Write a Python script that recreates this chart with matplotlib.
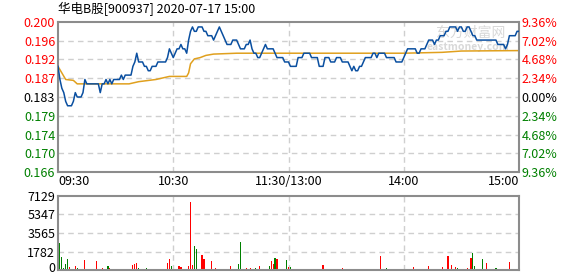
import matplotlib
matplotlib.use('Agg')
import matplotlib.pyplot as plt
import matplotlib.transforms as mtransforms
import numpy as np

plt.rcParams['font.family'] = ['Noto Sans CJK SC', 'DejaVu Sans']

title = '华电B股[900937] 2020-07-17 15:00'
prev_close = 0.183

# minute prices 09:30 .. 15:00 (241 points, 11:30 and 13:00 merged)
price = [
    0.190, 0.187, 0.185, 0.184, 0.182, 0.181, 0.181, 0.181, 0.182, 0.184,
    0.183, 0.183, 0.183, 0.184, 0.187, 0.186, 0.186, 0.186, 0.186, 0.186,
    0.186, 0.186, 0.184, 0.186, 0.186, 0.187, 0.186, 0.187, 0.186, 0.187,
    0.187, 0.187, 0.187, 0.188, 0.187, 0.188, 0.188, 0.188, 0.188, 0.190,
    0.191, 0.193, 0.191, 0.191, 0.191, 0.190, 0.190, 0.189, 0.189, 0.190,
    0.190, 0.190, 0.191, 0.191, 0.191, 0.191, 0.191, 0.192, 0.194, 0.193,
    0.192, 0.193, 0.194, 0.194, 0.195, 0.194, 0.194, 0.193, 0.196, 0.198,
    0.199, 0.198, 0.198, 0.199, 0.199, 0.199, 0.198, 0.198, 0.197, 0.197,
    0.197, 0.196, 0.197, 0.198, 0.199, 0.198, 0.197, 0.196, 0.195, 0.195,
    0.195, 0.196, 0.196, 0.196, 0.195, 0.194, 0.194, 0.194, 0.195, 0.195,
    0.196, 0.194, 0.193, 0.193, 0.192, 0.192, 0.193, 0.194, 0.195, 0.194,
    0.194, 0.194, 0.194, 0.193, 0.192, 0.192, 0.192, 0.192, 0.191, 0.191,
    0.191, 0.190, 0.190, 0.190, 0.190, 0.192, 0.192, 0.192, 0.193, 0.193,
    0.193, 0.193, 0.192, 0.192, 0.192, 0.192, 0.190, 0.190, 0.190, 0.192,
    0.192, 0.192, 0.191, 0.191, 0.191, 0.192, 0.192, 0.192, 0.191, 0.191,
    0.191, 0.191, 0.190, 0.189, 0.190, 0.189, 0.189, 0.190, 0.190, 0.191,
    0.192, 0.192, 0.192, 0.192, 0.193, 0.193, 0.192, 0.193, 0.193, 0.193,
    0.193, 0.192, 0.192, 0.192, 0.192, 0.192, 0.191, 0.191, 0.191, 0.191,
    0.192, 0.193, 0.194, 0.194, 0.194, 0.194, 0.194, 0.193, 0.193, 0.194,
    0.194, 0.194, 0.195, 0.196, 0.196, 0.196, 0.195, 0.196, 0.196, 0.197,
    0.197, 0.197, 0.198, 0.198, 0.199, 0.199, 0.199, 0.199, 0.198, 0.199,
    0.199, 0.198, 0.198, 0.199, 0.199, 0.198, 0.197, 0.197, 0.196, 0.196,
    0.196, 0.196, 0.196, 0.196, 0.196, 0.196, 0.196, 0.196, 0.196, 0.195,
    0.195, 0.195, 0.195, 0.194, 0.195, 0.197, 0.197, 0.197, 0.197, 0.198,
    0.198,
]

# average price line, read at turning points (minute, price)
avg_min = [0, 2, 4, 8, 10, 37, 42, 51, 58, 67, 68, 69, 71, 74, 77, 81, 93, 180, 200, 210, 240]
avg_val = [0.1900, 0.1885, 0.1870, 0.1868, 0.1860, 0.1860, 0.1865, 0.1870, 0.1877, 0.1877,
           0.1885, 0.1906, 0.1917, 0.1920, 0.1925, 0.1928, 0.1930, 0.1930, 0.1932, 0.1935, 0.1936]

volume = [
    0, 2633, 1285, 160, 578, 1060, 257, 96, 96, 385,
    190, 96, 96, 96, 963, 96, 96, 96, 96, 96,
    867, 96, 96, 190, 96, 96, 385, 190, 96, 96,
    96, 96, 96, 96, 96, 96, 0, 96, 0, 480,
    578, 674, 190, 96, 96, 96, 190, 96, 96, 96,
    96, 96, 96, 96, 96, 96, 96, 674, 1060, 385,
    96, 96, 96, 385, 290, 96, 96, 0, 385, 6551,
    480, 2312, 2023, 96, 96, 1445, 1060, 96, 96, 0,
    867, 96, 190, 96, 96, 96, 96, 96, 96, 96,
    385, 96, 96, 96, 578, 2697, 96, 96, 190, 96,
    190, 96, 96, 190, 96, 385, 96, 96, 96, 96,
    385, 867, 578, 1156, 1060, 96, 96, 96, 0, 963,
    257, 290, 0, 0, 0, 96, 96, 0, 96, 96,
    0, 96, 96, 96, 96, 96, 96, 96, 480, 0,
    96, 0, 96, 0, 0, 96, 96, 96, 190, 96,
    96, 96, 0, 96, 96, 96, 96, 96, 96, 96,
    96, 96, 96, 96, 96, 0, 96, 96, 1349, 96,
    96, 190, 0, 96, 96, 96, 96, 0, 0, 96,
    0, 96, 96, 96, 96, 290, 96, 96, 96, 96,
    96, 0, 96, 385, 0, 96, 96, 96, 96, 96,
    290, 96, 96, 1349, 96, 480, 96, 290, 190, 96,
    96, 96, 96, 190, 96, 1156, 1638, 385, 96, 96,
    0, 1060, 96, 674, 96, 96, 96, 96, 190, 96,
    96, 96, 96, 96, 96, 770, 96, 0, 0, 0,
    1349,
]

# r = up minute, g = down minute
vol_dir = (
    'rggggg' 'rrrr'
    'grrrrggrrr'
    'rggrgrgrgr'
    'rrrgrgrrrr'
    'rrgrrggg' 'rr'
    'rrrrrrrrrg'
    'grrrrggrrr'
    'rggrrrrggr'
    'rgrggggggr'
    'rrrrggrrrg'
    'rgggrrgggg'
    'grrgrrrrrg'
    'rgrrrrrrrr'
    'rggggggrrr'
    'rrgrrrrrrg'
    'rrrggrrrrr'
    'rrrrrrgrrr'
    'rgrrrgrrrr'
    'rrrrrrgggr'
    'rrrrrrggrr'
    'rrrrgrrrgg'
    'ggrrgrggrg'
    'rggrrrrrgr'
    'rrrgrrrrrr'
    'r'
)

x_labels = ['09:30', '10:30', '11:30/13:00', '14:00', '15:00']
price_ticks = ['0.166', '0.170', '0.174', '0.179', '0.183', '0.187', '0.192', '0.196', '0.200']
pct_ticks = ['9.36%', '7.02%', '4.68%', '2.34%', '0.00%', '2.34%', '4.68%', '7.02%', '9.36%']
vol_ticks = [0, 1782, 3565, 5347, 7129]

RED = '#ff0000'
GREEN = '#008000'
FRAME = '#8c8c8c'
GRID = '#cfcfcf'

minutes = np.arange(len(price))
step = 0.0234
levels = [prev_close * (1 + k * step) for k in range(-4, 5)]

fig = plt.figure(figsize=(5.78, 2.76), dpi=100)
ax = fig.add_axes([58 / 578, (276 - 172) / 276, 461 / 578, 150 / 276])
axv = fig.add_axes([58 / 578, (276 - 270) / 276, 461 / 578, 74 / 276])

for a in (ax, axv):
    a.set_xlim(0, 240)
    for s in a.spines.values():
        s.set_color(FRAME)
        s.set_linewidth(1.5)
    a.tick_params(length=0, labelsize=9, pad=2)
    for xv in (60, 120, 180):
        a.axvline(xv, color=GRID, lw=1, ls=(0, (4, 3)), zorder=0)

# price panel
ax.set_ylim(levels[0], levels[-1])
for lv in levels[1:-1]:
    ax.axhline(lv, color=GRID, lw=1, ls=(0, (4, 3)), zorder=0)
ax.plot(avg_min, avg_val, color='#e0a01e', lw=1.1, zorder=2)
ax.plot(minutes, price, color='#0a4fa0', lw=1.1, zorder=3)

ax.set_yticks(levels)
ax.set_yticklabels(price_ticks)
colors = [GREEN] * 4 + ['#000000'] + [RED] * 4
for lab, c in zip(ax.get_yticklabels(), colors):
    lab.set_color(c)

axr = ax.twinx()
axr.set_ylim(levels[0], levels[-1])
axr.set_yticks(levels)
axr.set_yticklabels(pct_ticks)
axr.tick_params(length=0, labelsize=9, pad=2)
for s in axr.spines.values():
    s.set_visible(False)
for lab, c in zip(axr.get_yticklabels(), colors):
    lab.set_color(c)

ax.set_xticks([0, 60, 120, 180, 240])
ax.set_xticklabels(x_labels, fontsize=9)
xl = ax.get_xticklabels()
xl[0].set_ha('left')
xl[-1].set_ha('right')

ax.text(0.0, 1.04, title, transform=ax.transAxes, fontsize=9, ha='left', va='bottom')

# watermark
ax.text(0.97, 0.93, '东方财富网', transform=ax.transAxes, fontsize=10, color='#d8d8d8',
        ha='right', va='center', zorder=1)
ax.text(0.98, 0.83, 'eastmoney.com', transform=ax.transAxes, fontsize=7.5, color='#d8d8d8',
        ha='right', va='center', zorder=1, fontweight='bold')

# volume panel
bar_colors = [RED if d == 'r' else GREEN for d in vol_dir]
axv.bar(minutes, volume, width=0.6, color=bar_colors, zorder=2)
axv.set_ylim(0, vol_ticks[-1])
axv.set_yticks(vol_ticks)
axv.set_yticklabels([str(v) for v in vol_ticks])
for v in vol_ticks[1:-1]:
    axv.axhline(v, color=GRID, lw=1, ls=(0, (4, 3)), zorder=0)
axv.set_xticks([])

# lift the "0" label a little so it stays inside the figure
zero_lab = axv.get_yticklabels()[0]
zero_lab.set_transform(zero_lab.get_transform() +
                       mtransforms.ScaledTranslation(0, 2 / 72, fig.dpi_scale_trans))

fig.savefig('out.png', dpi=100)
